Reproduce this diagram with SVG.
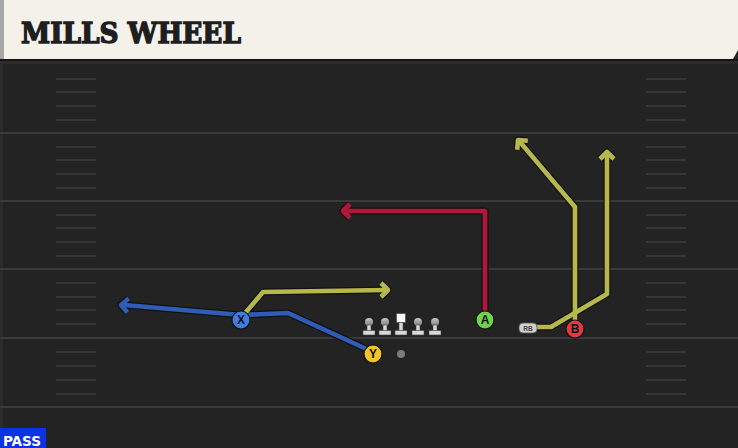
<svg xmlns="http://www.w3.org/2000/svg" xmlns:xlink="http://www.w3.org/1999/xlink" width="738" height="448" viewBox="0 0 738 448">
<style>
.fl{stroke:#3a3a3a;stroke-width:2;fill:none}
.hm{stroke:#363636;stroke-width:2;fill:none}
.o{stroke:#111;stroke-width:7;fill:none;stroke-linejoin:round;stroke-linecap:butt}
.yl{stroke:#b6b84b;stroke-width:4.6;fill:none;stroke-linejoin:round}
.rd{stroke:#b3163a;stroke-width:4.6;fill:none;stroke-linejoin:round}
.bl{stroke:#2e5cb6;stroke-width:4.6;fill:none;stroke-linejoin:round}
.pl{stroke:#111;stroke-width:1.2}
.lt{font-family:"Liberation Sans",Arial,sans-serif;font-weight:bold;font-size:12px;fill:#111;text-anchor:middle}
.ol{fill:#d8d8d8;stroke:#444;stroke-width:0.6}
</style>
<defs>
<linearGradient id="hg" x1="0" y1="0" x2="0" y2="1">
<stop offset="0" stop-color="#c8c8c8"/>
<stop offset="1" stop-color="#7a7a7a"/>
</linearGradient>
<path id="rBl" d="M373,352 L288,313 L241,315 L124,305"/>
<path id="aBl" d="M128.6,298.6 L121,305 L127.4,312.6"/>
<path id="rXy" d="M241,318 L263,292 L386,290"/>
<path id="aXy" d="M381,283 L388,290 L381,297"/>
<path id="rA" d="M485,318 L485,211 L345,211"/>
<path id="aA" d="M350,204 L343,211 L350,218"/>
<path id="rRB" d="M536,327 L551,327 L607,294 L607,155"/>
<path id="aRB" d="M600,159 L607,152 L614,159"/>
<path id="rB" d="M575,325 L575,207 L520,142"/>
<path id="aB" d="M527.8,140.8 L518,140 L517.2,149.8"/>
</defs>
<rect x="0" y="0" width="738" height="448" fill="#232323"/>
<rect x="0" y="60" width="3" height="388" fill="#2b2b2b"/>
<g id="header">
<polygon points="0,0 738,0 738,50 733,59 0,59" fill="#f4f1ea"/>
<rect x="0" y="0" width="4" height="59" fill="#a5a5a5"/>
<rect x="0" y="59" width="738" height="2" fill="#141414"/>
<rect x="0" y="61" width="738" height="3" fill="#2c2c2c"/>
<text x="21" y="43" font-family="'DejaVu Serif','Liberation Serif',serif" font-weight="bold" font-size="28" fill="#1e1e1e" stroke="#1e1e1e" stroke-width="1.4" textLength="220" lengthAdjust="spacingAndGlyphs">MILLS WHEEL</text>
</g>
<g id="field">
<path class="fl" d="M0,133H738M0,201H738M0,269H738M0,338H738M0,407H738"/>
<path class="hm" d="M56,79H96M56,92H96M56,106H96M56,120H96M56,147H96M56,160H96M56,174H96M56,188H96M56,215H96M56,228H96M56,242H96M56,256H96M56,283H96M56,297H96M56,310H96M56,324H96M56,352H96M56,366H96M56,380H96M56,394H96"/>
<path class="hm" d="M646,79H686M646,92H686M646,106H686M646,120H686M646,147H686M646,160H686M646,174H686M646,188H686M646,215H686M646,228H686M646,242H686M646,256H686M646,283H686M646,297H686M646,310H686M646,324H686M646,352H686M646,366H686M646,380H686M646,394H686"/>
</g>
<g id="connectors">
<use xlink:href="#rBl" class="o"/><use xlink:href="#aBl" class="o"/>
<use xlink:href="#rXy" class="o"/><use xlink:href="#aXy" class="o"/>
<use xlink:href="#rA" class="o"/><use xlink:href="#aA" class="o"/>
<use xlink:href="#rRB" class="o"/><use xlink:href="#aRB" class="o"/>
<use xlink:href="#rB" class="o"/><use xlink:href="#aB" class="o"/>
<use xlink:href="#rBl" class="bl"/><use xlink:href="#aBl" class="bl"/>
<use xlink:href="#rXy" class="yl"/><use xlink:href="#aXy" class="yl"/>
<use xlink:href="#rA" class="rd"/><use xlink:href="#aA" class="rd"/>
<use xlink:href="#rRB" class="yl"/><use xlink:href="#aRB" class="yl"/>
<use xlink:href="#rB" class="yl"/><use xlink:href="#aB" class="yl"/>
</g>
<g id="lt1"><circle cx="369" cy="322" r="4" fill="url(#hg)"/><rect class="ol" x="367" y="325" width="4" height="6"/><rect class="ol" x="363" y="330.5" width="12" height="4.5"/></g>
<g id="lg"><circle cx="385" cy="322" r="4" fill="url(#hg)"/><rect class="ol" x="383" y="325" width="4" height="6"/><rect class="ol" x="379" y="330.5" width="12" height="4.5"/></g>
<g id="c"><rect x="396.5" y="313.5" width="9" height="9" fill="#fafafa" stroke="#444" stroke-width="0.6"/><rect class="ol" x="399" y="322.5" width="4" height="8.5"/><rect class="ol" x="395" y="330.5" width="12" height="4.5"/></g>
<g id="rg"><circle cx="418" cy="322" r="4" fill="url(#hg)"/><rect class="ol" x="416" y="325" width="4" height="6"/><rect class="ol" x="412" y="330.5" width="12" height="4.5"/></g>
<g id="rt"><circle cx="435" cy="322" r="4" fill="url(#hg)"/><rect class="ol" x="433" y="325" width="4" height="6"/><rect class="ol" x="429" y="330.5" width="12" height="4.5"/></g>
<g id="ball"><circle cx="401" cy="354" r="4" fill="#7c7c7c"/></g>
<g id="X"><circle class="pl" cx="241" cy="320" r="9" fill="#3f7de0"/><text class="lt" x="241" y="324.3">X</text></g>
<g id="Y"><circle class="pl" cx="373" cy="354" r="9" fill="#f2c622"/><text class="lt" x="373" y="358.3">Y</text></g>
<g id="A"><circle class="pl" cx="485" cy="320" r="9" fill="#6fd44a"/><text class="lt" x="485" y="324.3">A</text></g>
<g id="B"><circle class="pl" cx="575" cy="329" r="9" fill="#e23a3e"/><text class="lt" x="575" y="333.3">B</text></g>
<g id="RB"><rect x="519" y="323" width="18" height="10" rx="4" fill="#cfcfcf" stroke="#555" stroke-width="0.8"/><text x="528" y="330.5" font-family="'Liberation Sans',Arial,sans-serif" font-weight="bold" font-size="6.5" fill="#444" text-anchor="middle">RB</text></g>
<g id="pass"><rect x="0" y="428" width="46" height="20" fill="#0b33e2"/><text x="3" y="445.5" font-family="'DejaVu Sans Condensed','Liberation Sans Narrow',sans-serif" font-weight="bold" font-size="14.5" fill="#ffffff" textLength="38" lengthAdjust="spacingAndGlyphs">PASS</text></g>
</svg>
